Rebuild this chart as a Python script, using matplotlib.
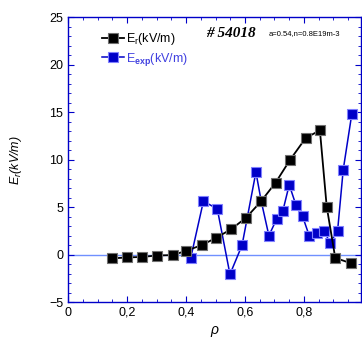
import matplotlib
matplotlib.use("Agg")
import matplotlib.pyplot as plt
from matplotlib.ticker import MultipleLocator, FuncFormatter

# E_r (black)
rho_r = [0.15, 0.20, 0.25, 0.30, 0.355, 0.40, 0.453, 0.502, 0.554, 0.603,
         0.654, 0.704, 0.753, 0.806, 0.854, 0.877, 0.906, 0.958]
er = [-0.4, -0.3, -0.25, -0.1, -0.05, 0.39, 1.0, 1.76, 2.7, 3.87,
      5.6, 7.6, 10.0, 12.3, 13.1, 5.07, -0.35, -0.9]

# E_exp (blue)
rho_exp = [0.416, 0.459, 0.506, 0.549, 0.590, 0.637, 0.655, 0.681, 0.707, 0.728,
           0.750, 0.773, 0.795, 0.818, 0.843, 0.869, 0.888, 0.914, 0.933, 0.962]
eexp = [-0.35, 5.63, 4.82, -2.08, 0.99, 8.7, 5.63, 2.0, 3.73, 4.57,
        7.36, 5.2, 4.05, 1.97, 2.32, 2.53, 1.2, 2.53, 8.94, 14.8]

plt.rcParams['font.family'] = ['Liberation Sans', 'DejaVu Sans']
plt.rcParams['mathtext.fontset'] = 'custom'
plt.rcParams['mathtext.rm'] = 'Liberation Sans'
plt.rcParams['mathtext.it'] = 'Liberation Sans:italic'
plt.rcParams['mathtext.bf'] = 'Liberation Sans:bold'

blue = '#0000c8'
fig = plt.figure(figsize=(3.62, 3.43), dpi=100)
ax = fig.add_axes([0.188, 0.1195, 0.8106, 0.8295])

ax.axhline(0, color='#7090ff', lw=1, zorder=1)
ax.plot(rho_r, er, color='black', lw=1.3, marker='s', ms=7,
        mfc='black', mec='#707070', mew=0.8, label=r'E$_\mathrm{r}$(kV/m)', zorder=3)
ax.plot(rho_exp, eexp, color=blue, lw=1.1, marker='s', ms=7,
        mfc=blue, mec='#8080ff', mew=0.8, label=r'E$_\mathbf{exp}$(kV/m)', zorder=2)

ax.set_xlim(0, 0.995)
ax.set_ylim(-5, 25)
ax.xaxis.set_major_locator(MultipleLocator(0.2))
ax.xaxis.set_minor_locator(MultipleLocator(0.05))
ax.yaxis.set_major_locator(MultipleLocator(5))
ax.yaxis.set_minor_locator(MultipleLocator(1))
ax.xaxis.set_major_formatter(FuncFormatter(lambda v, p: '0' if abs(v) < 1e-9 else ('%.1f' % v).replace('.', ',')))
ax.tick_params(which='both', direction='in', top=True, right=True, colors=blue,
               labelcolor='black', labelsize=9)
ax.tick_params(which='major', length=4)
ax.tick_params(which='minor', length=2)
for s in ax.spines.values():
    s.set_color(blue)
    s.set_linewidth(1)

ax.set_xlabel(r'$\rho$', fontsize=10, labelpad=4)
ax.set_ylabel(r'$E_r$(kV/m)', fontsize=9, style='italic', labelpad=18)

leg = ax.legend(loc='upper left', bbox_to_anchor=(0.1, 0.97), frameon=False,
                fontsize=9, handlelength=1.7, handletextpad=0.2,
                labelspacing=0.3, borderaxespad=0)
leg.get_texts()[1].set_color('#4040e0')

ax.text(0.47, 0.93, '# 54018', transform=ax.transAxes, fontsize=11,
        fontweight='bold', style='italic', family='Liberation Serif')
ax.text(0.685, 0.94, 'a=0.54,n=0.8E19m-3', transform=ax.transAxes, fontsize=5.5)

fig.savefig('out.png', dpi=100)
